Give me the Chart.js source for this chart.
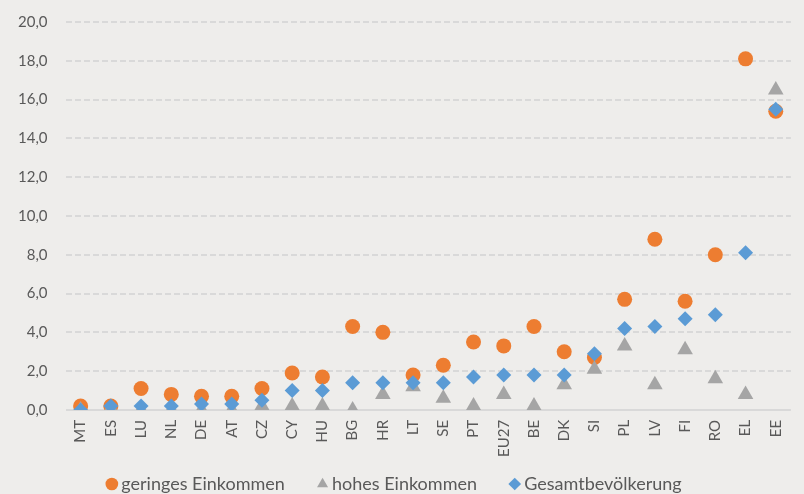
<!DOCTYPE html>
<html>
<head>
<meta charset="utf-8">
<script src="https://cdn.jsdelivr.net/npm/chart.js@4.4.0/dist/chart.umd.min.js"></script>
<style>
  html, body { margin: 0; padding: 0; background: #eeedeb; overflow: hidden; }
  #wrap { width: 804px; height: 499px; margin-top: -5px; }
</style>
</head>
<body>
<div id="wrap"><canvas id="chart"></canvas></div>
<script>
// Daten
const laender = ['MT', 'ES', 'LU', 'NL', 'DE', 'AT', 'CZ', 'CY', 'HU', 'BG', 'HR', 'LT', 'SE', 'PT', 'EU27', 'BE', 'DK', 'SI', 'PL', 'LV', 'FI', 'RO', 'EL', 'EE'];
const geringesEinkommen = [0.2, 0.2, 1.1, 0.8, 0.7, 0.7, 1.1, 1.9, 1.7, 4.3, 4.0, 1.8, 2.3, 3.5, 3.3, 4.3, 3.0, 2.7, 5.7, 8.8, 5.6, 8.0, 18.1, 15.4];
const hohesEinkommen = [0.0, 0.1, 0.0, 0.0, 0.0, 0.0, 0.2, 0.2, 0.2, 0.0, 0.8, 1.2, 0.6, 0.2, 0.8, 0.2, 1.3, 2.1, 3.3, 1.3, 3.1, 1.6, 0.8, 16.5];
const gesamtbevoelkerung = [0.0, 0.2, 0.2, 0.2, 0.3, 0.3, 0.5, 1.0, 1.0, 1.4, 1.4, 1.4, 1.4, 1.7, 1.8, 1.8, 1.8, 2.9, 4.2, 4.3, 4.7, 4.9, 8.1, 15.5];
const yTicks = [0, 2, 4, 6, 8, 10, 12, 14, 16, 18, 20];

const textGrau = '#595959';
const fontFam = 'Lato, "Noto Sans", sans-serif';

const ctx = document.getElementById('chart').getContext('2d');
new Chart(ctx, {
    type: 'line',
    data: {
        labels: laender,
        datasets: [
            {
                label: 'geringes Einkommen',
                data: geringesEinkommen,
                showLine: false,
                pointStyle: 'circle',
                pointRadius: 7.5,
                backgroundColor: '#ed7d31',
                borderColor: '#ed7d31',
                borderWidth: 0,
                order: 3
            },
            {
                label: 'hohes Einkommen',
                data: hohesEinkommen,
                showLine: false,
                pointStyle: 'triangle',
                pointRadius: 9,
                backgroundColor: '#a5a5a5',
                borderColor: '#a5a5a5',
                borderWidth: 0,
                order: 2
            },
            {
                label: 'Gesamtbevölkerung',
                data: gesamtbevoelkerung,
                showLine: false,
                pointStyle: 'rectRot',
                pointRadius: 7.5,
                backgroundColor: '#5b9bd5',
                borderColor: '#5b9bd5',
                borderWidth: 0,
                order: 1
            }
        ]
    },
    options: {
        responsive: true,
        maintainAspectRatio: false,
        animation: false,
        layout: { padding: { top: 0, right: 11, left: 0, bottom: -9 } },
        scales: {
            x: {
                offset: true,
                grid: { display: false, drawTicks: false },
                border: { display: false },
                ticks: {
                    color: textGrau,
                    font: { family: fontFam, size: 15 },
                    maxRotation: 90,
                    minRotation: 90,
                    padding: 10,
                    autoSkip: false
                }
            },
            y: {
                min: 0,
                max: 20,
                afterBuildTicks: axis => { axis.ticks = yTicks.map(v => ({ value: v })); },
                grid: {
                    color: '#d9d9d9',
                    lineWidth: 2,
                    drawTicks: false
                },
                border: {
                    display: false,
                    dash: c => (c.tick && c.tick.value === 0) ? [] : [6, 3]
                },
                ticks: {
                    color: textGrau,
                    font: { family: fontFam, size: 15 },
                    padding: 18,
                    callback: v => v.toFixed(1).replace('.', ',')
                }
            }
        },
        plugins: {
            legend: {
                position: 'bottom',
                reverse: true,
                labels: {
                    usePointStyle: true,
                    boxWidth: 1,
                    boxHeight: 9,
                    padding: 8,
                    color: textGrau,
                    font: { family: fontFam, size: 18 },
                    // Abstand zwischen den Einträgen wie im Original (Liste ist hier noch umgekehrt)
                    generateLabels: chart => Chart.defaults.plugins.legend.labels.generateLabels(chart)
                        .map((item, i) => ({ ...item, text: i > 0 ? item.text + '\u2003\u2002\u2009\u2009\u2009' : item.text }))
                }
            },
            tooltip: { enabled: false }
        }
    }
});
</script>
</body>
</html>
